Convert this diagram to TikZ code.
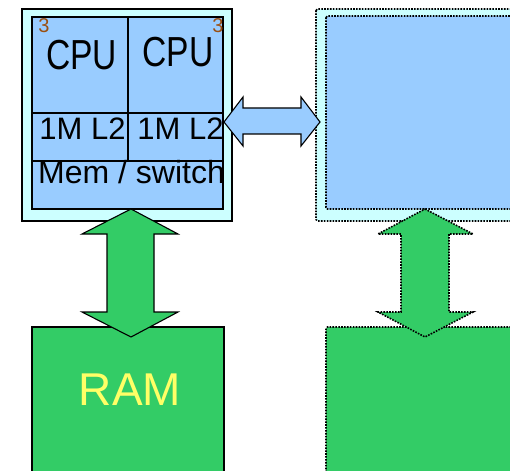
\documentclass[tikz,border=0pt]{standalone}
\usepackage{fontspec}
\setmainfont{Liberation Sans}
\usepackage{xcolor}
\usepackage{tikz}
\usetikzlibrary{positioning,calc}

\definecolor{chipcyan}{HTML}{CCFFFF}
\definecolor{chipblue}{HTML}{99CCFF}
\definecolor{ramgreen}{HTML}{33CC66}
\definecolor{ramyellow}{HTML}{FFFF66}
\definecolor{tagbrown}{HTML}{9A4F10}

\tikzset{
    solidbox/.style={draw=black, line width=1.1pt},
    ghostbox/.style={draw=black, line width=1.6pt, dash pattern=on 1.6pt off 1.3pt, rounded corners=1.5pt},
    lbl/.style={inner sep=0pt, anchor=base},
}

\begin{document}
\begin{tikzpicture}[x=1pt,y=-1pt]
    \useasboundingbox (0,0) rectangle (510,470);

    % Chip with two cores
    \draw[solidbox, fill=chipcyan] (22,9) rectangle (232,221);
    \draw[solidbox, fill=chipblue] (32,17) rectangle (223,209);
    \draw[solidbox] (128,17) -- (128,161);
    \draw[solidbox] (32,113) -- (223,113);
    \draw[solidbox] (32,161) -- (223,161);

    \node[lbl] (cpuA) at (81.5,70) {\fontsize{42}{42}\selectfont\scalebox{0.8}[1]{CPU}};
    \node[lbl] (cpuB) at (178,67) {\fontsize{42}{42}\selectfont\scalebox{0.8}[1]{CPU}};
    \node[lbl, text=tagbrown] (tagA) at (44,33) {\fontsize{20}{20}\selectfont 3};
    \node[lbl, text=tagbrown] (tagB) at (218,33) {\fontsize{20}{20}\selectfont 3};
    \node[lbl] (cacheA) at (82.5,140) {\fontsize{31}{31}\selectfont 1M L2};
    \node[lbl] (cacheB) at (180.5,140) {\fontsize{31}{31}\selectfont 1M L2};
    \node[lbl] (memsw) at (131.5,183) {\fontsize{32}{32}\selectfont Mem / switch};

    % Second chip (dotted)
    \draw[ghostbox, fill=chipcyan] (316,9) rectangle (530,221);
    \draw[ghostbox, fill=chipblue] (326,16) rectangle (530,209);

    % Memory
    \draw[solidbox, fill=ramgreen] (32,327) rectangle (224,480);
    \node[lbl, text=ramyellow] (ram) at (130,405) {\fontsize{46}{46}\selectfont RAM};
    \draw[ghostbox, fill=ramgreen] (326,327) rectangle (530,480);

    % Chip to chip link
    \draw[solidbox, fill=chipblue, line join=miter]
        (224,122) -- (243,97) -- (243,108) -- (301,108) -- (301,97) -- (320,122)
        -- (301,146) -- (301,134) -- (243,134) -- (243,146) -- cycle;

    % Chip to memory links
    \draw[solidbox, fill=ramgreen, line join=miter]
        (131,209) -- (178,234) -- (154,234) -- (154,312) -- (178,312) -- (131,337)
        -- (82,312) -- (107,312) -- (107,234) -- (82,234) -- cycle;
    \draw[ghostbox, rounded corners=0pt, fill=ramgreen]
        (425,209) -- (473,234) -- (449,234) -- (449,312) -- (473,312) -- (425,337)
        -- (378,312) -- (401,312) -- (401,234) -- (378,234) -- cycle;

\end{tikzpicture}
\end{document}
